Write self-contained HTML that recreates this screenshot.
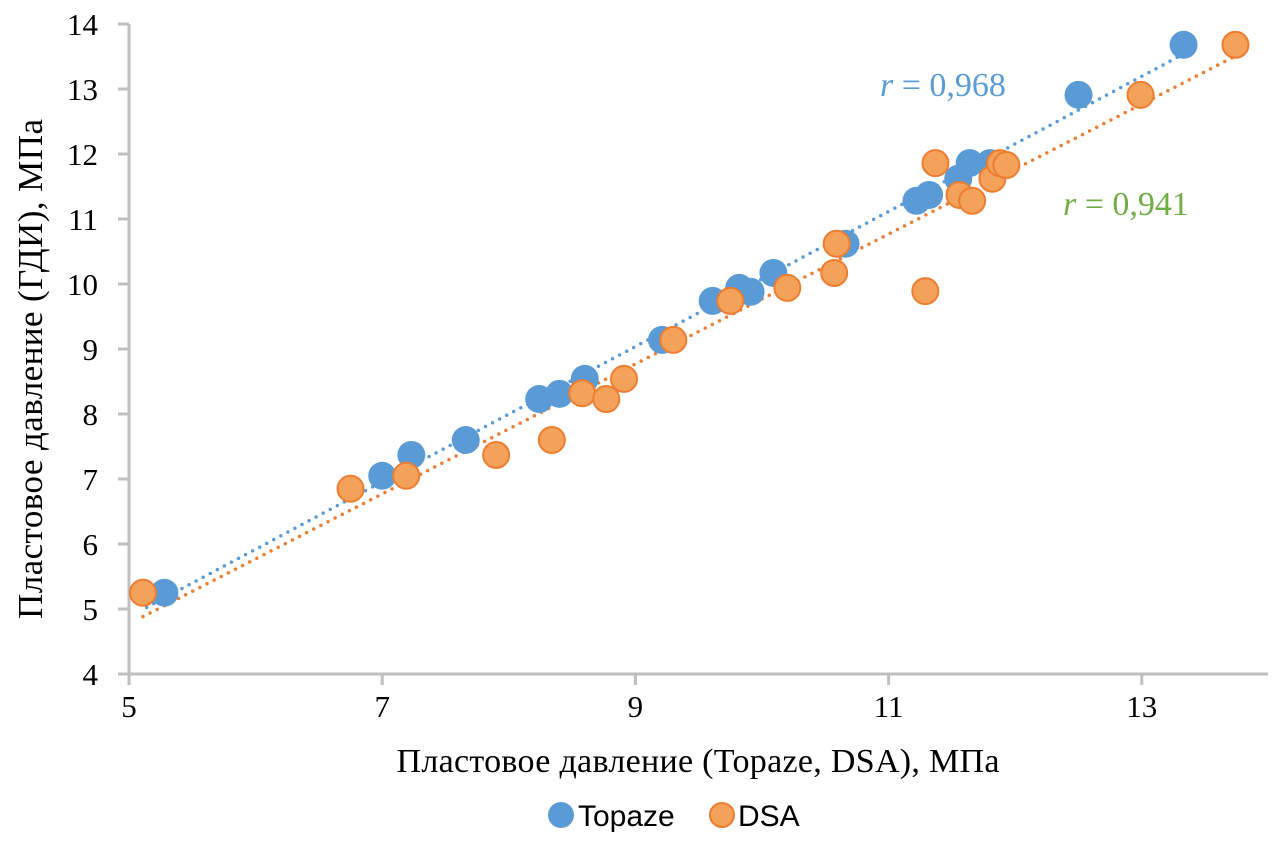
<!DOCTYPE html>
<html><head><meta charset="utf-8"><style>
body{margin:0;background:#fff}
.s{font-family:"Liberation Serif",serif}
.a{font-family:"Liberation Sans",sans-serif}
</style></head><body>
<svg width="1276" height="840" viewBox="0 0 1276 840">
<g id="axes"></g><g id="lines"></g><g id="pts"></g>
<text class="s" x="880" y="96" font-size="34" fill="#5B9BD5"><tspan font-style="italic">r</tspan> = 0,968</text>
<text class="s" x="1063" y="215" font-size="34" fill="#70AD47"><tspan font-style="italic">r</tspan> = 0,941</text>
<text class="s" x="698" y="772" font-size="34" text-anchor="middle" textLength="603">Пластовое давление (Topaze, DSA), МПа</text>
<text class="s" transform="translate(42,369) rotate(-90)" font-size="35" text-anchor="middle" textLength="500">Пластовое давление (ГДИ), МПа</text>
<g>
<circle cx="561" cy="815" r="13" fill="#5B9BD5"/>
<text class="a" x="578" y="826" font-size="30">Topaze</text>
<circle cx="722" cy="815" r="12" fill="#F4A15A" stroke="#ED7D31" stroke-width="2"/>
<text class="a" x="738" y="826" font-size="30">DSA</text>
</g>
</svg>
<script>
const xTicks=[5,7,9,11,13];
const yTicks=[4,5,6,7,8,9,10,11,12,13,14];
const topazeX=[5.28,7.0,7.23,7.66,8.24,8.4,8.6,9.21,9.61,9.82,9.91,10.09,10.66,11.22,11.32,11.55,11.64,11.8,12.5,13.33];
const topazeY=[5.25,7.05,7.37,7.6,8.23,8.31,8.54,9.14,9.74,9.94,9.88,10.17,10.62,11.28,11.37,11.62,11.86,11.86,12.91,13.68];
const dsaX=[5.11,6.75,7.19,7.9,8.34,8.58,8.77,8.91,9.3,9.75,10.2,10.57,10.59,11.29,11.37,11.56,11.66,11.82,11.88,11.93,12.99,13.74];
const dsaY=[5.25,6.85,7.05,7.37,7.6,8.32,8.23,8.54,9.14,9.74,9.94,10.17,10.62,9.89,11.86,11.37,11.28,11.62,11.86,11.83,12.91,13.68];
const NS='http://www.w3.org/2000/svg';
const X=v=>129+(v-5)*126.6, Y=v=>674-(v-4)*65;
function mk(t,a,p){const e=document.createElementNS(NS,t);for(const k in a)e.setAttribute(k,a[k]);document.getElementById(p).appendChild(e);return e;}
let e=mk('line',{x1:129,y1:24,x2:129,y2:675,stroke:'#BFBFBF','stroke-width':3},'axes');

e=mk('line',{x1:118,y1:674,x2:1268,y2:674,stroke:'#BFBFBF','stroke-width':3},'axes');

yTicks.forEach(v=>{mk('line',{x1:118,x2:129,y1:Y(v),y2:Y(v),stroke:'#BFBFBF','stroke-width':3},'axes');
 const t=mk('text',{x:98,y:Y(v)+11,'font-size':31,'text-anchor':'end',class:'s'},'axes');t.textContent=v;
 });
xTicks.forEach(v=>{mk('line',{x1:X(v),x2:X(v),y1:674,y2:685,stroke:'#BFBFBF','stroke-width':3},'axes');
 const t=mk('text',{x:X(v),y:717,'font-size':31,'text-anchor':'middle',class:'s'},'axes');t.textContent=v;
 });
function fit(xs,ys){const n=xs.length;let mx=0,my=0;for(let i=0;i<n;i++){mx+=xs[i];my+=ys[i];}mx/=n;my/=n;let sxy=0,sxx=0;for(let i=0;i<n;i++){sxy+=(xs[i]-mx)*(ys[i]-my);sxx+=(xs[i]-mx)**2;}const b=sxy/sxx;return [b,my-b*mx];}
function trend(xs,ys,x0,x1,c,name){const [b,a]=fit(xs,ys);
 const l=mk('line',{x1:X(x0),y1:Y(a+b*x0),x2:X(x1),y2:Y(a+b*x1),stroke:c,'stroke-width':3.5,'stroke-dasharray':'0 8','stroke-linecap':'round'},'lines');
 }
trend(topazeX,topazeY,Math.min(...topazeX)-0.14,Math.max(...topazeX)+0.1,'#5B9BD5','trendline-topaze');
trend(dsaX,dsaY,Math.min(...dsaX),Math.max(...dsaX)+0.08,'#ED7D31','trendline-dsa');
topazeX.forEach((v,i)=>{const c=mk('circle',{cx:X(v),cy:Y(topazeY[i]),r:14,fill:'#5B9BD5'},'pts');
 });
dsaX.forEach((v,i)=>{const c=mk('circle',{cx:X(v),cy:Y(dsaY[i]),r:13,fill:'#F4A15A',stroke:'#ED7D31','stroke-width':2},'pts');
 });
</script>
</body></html>
